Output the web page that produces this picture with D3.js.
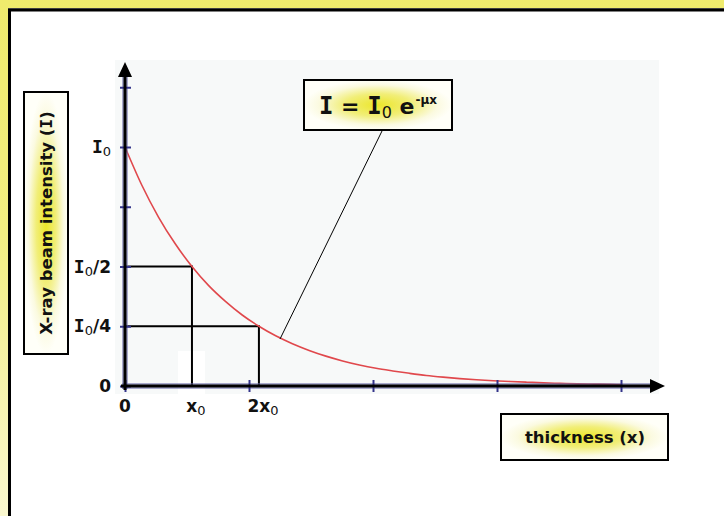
<!DOCTYPE html>
<html>
<head>
<meta charset="utf-8">
<script src="https://cdn.jsdelivr.net/npm/d3@7"></script>
<style>
  html, body { margin: 0; padding: 0; background: #fff; }
  svg { display: block; }
</style>
</head>
<body>
<svg id="chart" width="724" height="516"></svg>
<script>
// Beam intensity sampled along the thickness axis (x in axis units, I as a fraction of I0)
const thickness = [0, 0.135, 0.27, 0.405, 0.54, 0.675, 0.81, 0.945, 1.08, 1.215,
  1.35, 1.485, 1.62, 1.755, 1.89, 2.025, 2.16, 2.295, 2.43, 2.565,
  2.7, 2.835, 2.97, 3.105, 3.24, 3.375, 3.51, 3.645, 3.78, 3.915, 4.0];
const intensity = [1.000, 0.841, 0.707, 0.595, 0.500, 0.420, 0.354, 0.297, 0.250, 0.210,
  0.177, 0.149, 0.125, 0.105, 0.088, 0.074, 0.063, 0.053, 0.044, 0.037,
  0.031, 0.026, 0.022, 0.019, 0.016, 0.013, 0.011, 0.009, 0.008, 0.007, 0.006];

// Half-value thickness and the two marked levels
const halfThickness = 0.54;
const markerX = [halfThickness, 2 * halfThickness];
const markerY = [0.5, 0.25];

// Axis ticks and labels
const yTicks = [0, 0.25, 0.5, 0.75, 1, 1.25];
const yLabelValues = [1, 0.5, 0.25, 0];
const yLabelParts = [["I", "0", ""], ["I", "0", "/2"], ["I", "0", "/4"], ["0", "", ""]];
const xTicks = [0, 1, 2, 3, 4];
const xLabelValues = [0, halfThickness, 2 * halfThickness];
const xLabelParts = [["0", ""], ["x", "0"], ["2x", "0"]];

const FONT = "'DejaVu Sans', Verdana, sans-serif";
const SERIF_I = "'DejaVu Sans Mono', monospace";

const svg = d3.select("#chart");
const defs = svg.append("defs");

// Background gradient
const bg = defs.append("linearGradient").attr("id", "bgGrad")
  .attr("x1", 0).attr("y1", 0).attr("x2", 0).attr("y2", 1);
bg.append("stop").attr("offset", 0).attr("stop-color", "#efeb6c");
bg.append("stop").attr("offset", 0.45).attr("stop-color", "#f2ee82");
bg.append("stop").attr("offset", 1).attr("stop-color", "#faf8d0");

// Glow used inside the label boxes
const glow = defs.append("radialGradient").attr("id", "glow")
  .attr("cx", 0.5).attr("cy", 0.5).attr("r", 0.5);
glow.append("stop").attr("offset", 0).attr("stop-color", "#ece62a");
glow.append("stop").attr("offset", 0.45).attr("stop-color", "#f1ee78");
glow.append("stop").attr("offset", 0.8).attr("stop-color", "#fbfae0");
glow.append("stop").attr("offset", 1).attr("stop-color", "#fffff8");

svg.append("rect").attr("width", 724).attr("height", 516).attr("fill", "url(#bgGrad)");

// White panel
svg.append("rect").attr("x", 8.5).attr("y", 8.5).attr("width", 760).attr("height", 560)
  .attr("fill", "none").attr("stroke", "#808080").attr("stroke-width", 1);
svg.append("rect").attr("x", 9.5).attr("y", 10).attr("width", 760).attr("height", 560)
  .attr("fill", "#fff").attr("stroke", "#000").attr("stroke-width", 3);

// Scales
const x = d3.scaleLinear().domain([0, 4]).range([125, 621]);
const y = d3.scaleLinear().domain([0, 1]).range([386, 147]);

// Plot area background
svg.append("rect").attr("x", 115).attr("y", 60).attr("width", 544).attr("height", 334)
  .attr("fill", "#f7f9f9");
svg.append("rect").attr("x", 178).attr("y", 351).attr("width", 27).attr("height", 43)
  .attr("fill", "#fff");

// Guide lines for the half and quarter levels
const guides = svg.append("g").attr("stroke", "#000").attr("stroke-width", 2).attr("fill", "none");
markerX.forEach((mx, i) => {
  guides.append("path")
    .attr("d", `M${x(0)},${y(markerY[i])}H${x(mx)}V${y(0)}`);
});

// Attenuation curve
svg.append("path")
  .datum(thickness.map((t, i) => [t, intensity[i]]))
  .attr("fill", "none")
  .attr("stroke", "#e0484c")
  .attr("stroke-width", 1.6)
  .attr("d", d3.line().x(d => x(d[0])).y(d => y(d[1])).curve(d3.curveMonotoneX));

// Axes: soft blue shadow, black line, blue ticks
const yTop = 62, xEnd = 665;
const axes = svg.append("g");
axes.append("line").attr("x1", x(0)).attr("x2", x(0)).attr("y1", yTop + 10).attr("y2", y(0) + 3)
  .attr("stroke", "#6a6aaa").attr("stroke-opacity", 0.55).attr("stroke-width", 6);
axes.append("line").attr("x1", x(0) - 3).attr("x2", xEnd - 10).attr("y1", y(0)).attr("y2", y(0))
  .attr("stroke", "#6a6aaa").attr("stroke-opacity", 0.55).attr("stroke-width", 6);

const yAxis = d3.axisLeft(y).tickValues(yTicks).tickFormat("").tickSizeInner(-11).tickSizeOuter(0);
const yAxisG = axes.append("g").attr("transform", `translate(${x(0) - 5},0)`).call(yAxis);
yAxisG.select(".domain").remove();
yAxisG.selectAll(".tick line").attr("stroke", "#34348a").attr("stroke-width", 2);

const xAxis = d3.axisBottom(x).tickValues(xTicks).tickFormat("").tickSizeInner(-12).tickSizeOuter(0);
const xAxisG = axes.append("g").attr("transform", `translate(0,${y(0) + 6})`).call(xAxis);
xAxisG.select(".domain").remove();
xAxisG.selectAll(".tick line").attr("stroke", "#34348a").attr("stroke-width", 2);

axes.append("line").attr("x1", x(0)).attr("x2", x(0)).attr("y1", yTop + 8).attr("y2", y(0) + 4)
  .attr("stroke", "#000").attr("stroke-width", 3);
axes.append("line").attr("x1", x(0) - 4).attr("x2", xEnd - 8).attr("y1", y(0)).attr("y2", y(0))
  .attr("stroke", "#000").attr("stroke-width", 3);
axes.append("path").attr("d", `M${x(0)},${yTop}L${x(0) - 7},${yTop + 15}L${x(0) + 7},${yTop + 15}Z`)
  .attr("fill", "#000");
axes.append("path").attr("d", `M${xEnd},${y(0)}L${xEnd - 15},${y(0) - 7}L${xEnd - 15},${y(0) + 7}Z`)
  .attr("fill", "#000");

// Y tick labels
const yLab = svg.append("g").attr("font-family", FONT).attr("font-weight", "bold")
  .attr("font-size", 17).attr("fill", "#111");
yLabelValues.forEach((v, i) => {
  const [base, sub, tail] = yLabelParts[i];
  const t = yLab.append("text").attr("x", 111).attr("y", y(v) + 6).attr("text-anchor", "end");
  t.append("tspan").attr("font-family", base === "I" ? SERIF_I : FONT).attr("font-size", base === "I" ? 18 : 17).text(base);
  if (sub) t.append("tspan").attr("font-weight", "normal").attr("font-size", 13).attr("dy", 3).text(sub);
  if (tail) t.append("tspan").attr("dy", -3).text(tail);
});

// X tick labels
const xLab = svg.append("g").attr("font-family", FONT).attr("font-weight", "bold")
  .attr("font-size", 17).attr("fill", "#111");
xLabelValues.forEach((v, i) => {
  const [base, sub] = xLabelParts[i];
  const t = xLab.append("text").attr("x", x(v) + (sub ? 4 : 0)).attr("y", 412).attr("text-anchor", "middle");
  t.append("tspan").text(base);
  if (sub) t.append("tspan").attr("font-weight", "normal").attr("font-size", 13).attr("dy", 3).text(sub);
});

// Leader from the equation box to the curve
svg.append("line").attr("x1", 382).attr("y1", 131).attr("x2", 280).attr("y2", 339)
  .attr("stroke", "#000").attr("stroke-width", 1);

// Equation box
svg.append("rect").attr("x", 304).attr("y", 80).attr("width", 148).attr("height", 50)
  .attr("fill", "url(#glow)").attr("stroke", "#000").attr("stroke-width", 2);
const eq = svg.append("text").attr("x", 378).attr("y", 114).attr("text-anchor", "middle")
  .attr("font-family", FONT).attr("font-weight", "bold").attr("font-size", 22).attr("fill", "#111");
eq.append("tspan").attr("font-family", SERIF_I).attr("font-size", 24).text("I");
eq.append("tspan").text(" = ");
eq.append("tspan").attr("font-family", SERIF_I).attr("font-size", 24).text("I");
eq.append("tspan").attr("font-weight", "normal").attr("font-size", 16).attr("dy", 4).text("0");
eq.append("tspan").attr("dy", -4).text(" e");
eq.append("tspan").attr("font-size", 12).attr("dy", -10).attr("dx", 1).text("-μx");

// Y axis title box
svg.append("rect").attr("x", 24).attr("y", 92).attr("width", 44).attr("height", 262)
  .attr("fill", "url(#glow)").attr("stroke", "#000").attr("stroke-width", 2);
const yt = svg.append("text").attr("transform", "translate(52,223) rotate(-90)")
  .attr("text-anchor", "middle").attr("font-family", FONT).attr("font-weight", "bold")
  .attr("font-size", 16.5).attr("fill", "#111");
yt.append("tspan").text("X-ray beam intensity (");
yt.append("tspan").attr("font-family", SERIF_I).text("I");
yt.append("tspan").text(")");

// X axis title box
svg.append("rect").attr("x", 501).attr("y", 414).attr("width", 167).attr("height", 46)
  .attr("fill", "url(#glow)").attr("stroke", "#000").attr("stroke-width", 2);
svg.append("text").attr("x", 585).attr("y", 443).attr("text-anchor", "middle")
  .attr("font-family", FONT).attr("font-weight", "bold").attr("font-size", 16.5).attr("fill", "#111")
  .text("thickness (x)");
</script>
</body>
</html>
